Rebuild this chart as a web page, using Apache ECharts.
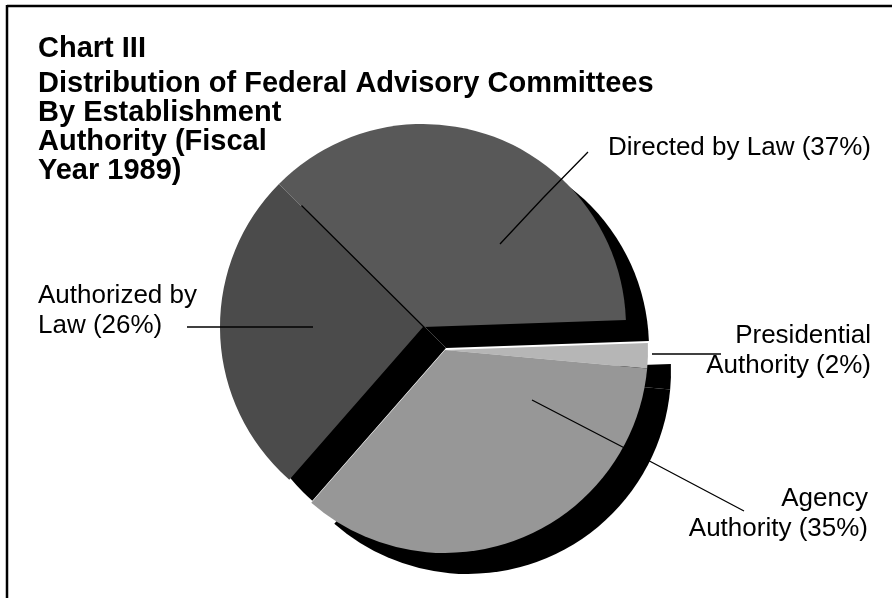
<!DOCTYPE html>
<html>
<head>
<meta charset="utf-8">
<script src="https://cdn.jsdelivr.net/npm/echarts@6/dist/echarts.min.js"></script>
<style>
html,body{margin:0;padding:0;background:#fff;}
#c{width:892px;height:598px;}
</style>
</head>
<body>
<div id="c"></div>
<script>
// ---- data ----
const categories = ['Directed by Law', 'Authorized by Law', 'Agency Authority', 'Presidential Authority'];
const shares = [37, 26, 35, 2];
const labelWords = [['Directed by Law'], ['Authorized by', 'Law'], ['Agency', 'Authority'], ['Presidential', 'Authority']];
const titleHead = 'Chart III';
const titleLines = ['Distribution of Federal Advisory Committees', 'By Establishment', 'Authority (Fiscal', 'Year 1989)'];
const explodedNames = ['Agency Authority', 'Presidential Authority'];

// ---- styles ----
const FONT = '"Liberation Sans", Arial, Helvetica, sans-serif';
const fills = {
  'Directed by Law': '#585858',
  'Authorized by Law': '#4b4b4b',
  'Agency Authority': '#979797',
  'Presidential Authority': '#b6b6b6'
};
const labelLayoutCfg = {
  'Directed by Law': {x: 608, y: 133, align: 'left', pts: [[500, 244], [543, 198], [588, 152]]},
  'Authorized by Law': {x: 38, y: 281, align: 'left', pts: [[313, 327], [250, 327], [187, 327]]},
  'Presidential Authority': {x: 871, y: 321, align: 'right', pts: [[652, 354], [686, 354], [721, 354]]},
  'Agency Authority': {x: 868, y: 484, align: 'right', pts: [[532, 400], [640, 456], [744, 511]]}
};
const CENTER = [423, 327];
const EXPLODE = [22, 23];
const R = 203;
const SHADOW = {shadowColor: '#000', shadowOffsetX: 23, shadowOffsetY: 21, shadowBlur: 0};
const CLEAR = 'rgba(0,0,0,0)';

function labelText(i) {
  const w = labelWords[i].slice();
  w[w.length - 1] = w[w.length - 1] + ' (' + shares[i] + '%)';
  return w.join('\n');
}

// mode: 'main' | 'exploded' | 'labels'
function makeData(mode) {
  return categories.map((name, i) => {
    const isExp = explodedNames.includes(name);
    const visible = (mode === 'main' && !isExp) || (mode === 'exploded' && isExp);
    return {
      name: name,
      value: shares[i],
      itemStyle: visible
        ? Object.assign({color: fills[name], borderWidth: 0}, SHADOW)
        : {color: CLEAR, borderWidth: 0, shadowColor: CLEAR},
      label: {show: mode === 'labels', formatter: labelText(i)},
      labelLine: {show: mode === 'labels'}
    };
  });
}

function makeLayout(dataArr) {
  return function (params) {
    const cfg = labelLayoutCfg[dataArr[params.dataIndex].name];
    return {
      x: cfg.x, y: cfg.y, align: cfg.align, verticalAlign: 'top',
      labelLinePoints: cfg.pts
    };
  };
}

const commonLabel = {
  color: '#000', fontFamily: FONT, fontSize: 26, lineHeight: 30, position: 'outside'
};
const commonLine = {lineStyle: {color: '#000', width: 1.3}, length: 10, length2: 10, smooth: false};

const mainData = makeData('main');
const expData = makeData('exploded').reverse();
const labelData = makeData('labels');

function pieSeries(data, center, clockwise, z) {
  return {
    type: 'pie', silent: true, z: z,
    center: center, radius: R,
    startAngle: 2, clockwise: clockwise,
    avoidLabelOverlap: false,
    emphasis: {disabled: true},
    label: commonLabel, labelLine: commonLine,
    labelLayout: makeLayout(data),
    data: data
  };
}

const chart = echarts.init(document.getElementById('c'), null, {renderer: 'canvas'});
chart.setOption({
  animation: false,
  backgroundColor: '#fff',
  title: [
    {
      text: titleHead, left: 33, top: 29,
      textStyle: {fontFamily: FONT, fontSize: 29, fontWeight: 'bold', color: '#000', lineHeight: 30}
    },
    {
      text: titleLines.join('\n'), left: 33, top: 64,
      textStyle: {fontFamily: FONT, fontSize: 29, fontWeight: 'bold', color: '#000', lineHeight: 29}
    }
  ],
  graphic: [
    {type: 'line', silent: true, shape: {x1: 7, y1: 6, x2: 892, y2: 6}, style: {stroke: '#000', lineWidth: 2.5}},
    {type: 'line', silent: true, shape: {x1: 7, y1: 5, x2: 7, y2: 598}, style: {stroke: '#000', lineWidth: 2.5}}
  ],
  series: [
    pieSeries(mainData, CENTER, false, 2),
    pieSeries(expData, [CENTER[0] + EXPLODE[0], CENTER[1] + EXPLODE[1]], true, 3),
    pieSeries(labelData, CENTER, false, 4)
  ]
});
</script>
</body>
</html>
